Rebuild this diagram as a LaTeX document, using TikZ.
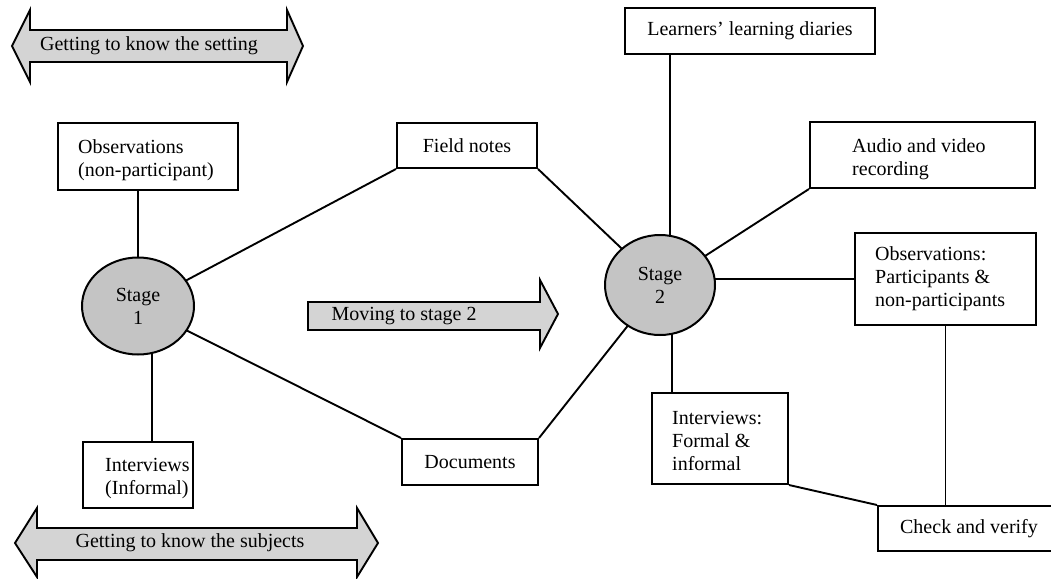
\documentclass[tikz,border=0pt]{standalone}
\usepackage{fontspec}
\setmainfont{Liberation Serif}
\usetikzlibrary{shapes.geometric,backgrounds,calc}
\definecolor{stagegray}{RGB}{196,196,196}
\definecolor{arrowgray}{RGB}{212,212,212}
\begin{document}
\begin{tikzpicture}[x=1pt,y=-1pt,
  every node/.style={font=\fontsize{20}{23}\selectfont},
  box/.style={draw, fill=white, line width=2pt, inner sep=0pt},
  txt/.style={inner sep=0pt, align=left, anchor=north west},
  stage/.style={ellipse, draw, line width=2pt, fill=stagegray, align=center, inner sep=0pt},
  conn/.style={line width=1.9pt},
  arr/.style={draw, line width=1.9pt, fill=arrowgray, line join=miter}]
\useasboundingbox (0,0) rectangle (1051,578);
\clip (0,0) rectangle (1051,578);

% block arrows
\path[arr] (12,46) -- (30,10) -- (30,30) -- (287,30) -- (287,10) -- (303,46) -- (287,82) -- (287,62) -- (30,62) -- (30,82) -- cycle;
\node (tset) at (149,46) {Getting to know the setting};
\path[arr] (15,543) -- (37,508) -- (37,528) -- (357,528) -- (357,508) -- (378,543) -- (357,577) -- (357,560) -- (37,560) -- (37,577) -- cycle;
\node (tsubj) at (190,543) {Getting to know the subjects};
\path[arr] (308,302) -- (540,302) -- (540,280) -- (558,314) -- (540,348) -- (540,330) -- (308,330) -- cycle;
\node (tmove) at (404,316) {Moving to stage 2};

% stages
\node[stage, minimum width=112pt, minimum height=97pt] (s1) at (138,306) {Stage\\1};
\node[stage, minimum width=110pt, minimum height=100pt] (s2) at (660,285) {Stage\\2};

% boxes
\node[box, minimum width=180pt, minimum height=67pt] (obs1) at (148,156.5) {};
\node[txt] (obs1t) at (78,139.5) {Observations\\(non-participant)};
\node[box, minimum width=110pt, minimum height=66pt] (int1) at (138,475) {};
\node[txt] (int1t) at (105,458.5) {Interviews\\(Informal)};
\node[box, minimum width=140pt, minimum height=45pt] (field) at (467,145.5) {Field notes};
\node[box, minimum width=136pt, minimum height=46pt] (docs) at (470,462) {Documents};
\node[box, minimum width=250pt, minimum height=46pt] (learn) at (750,31) {Learners’ learning diaries};
\node[box, minimum width=225pt, minimum height=66pt] (audio) at (922.5,155) {};
\node[txt] (audiot) at (852,138.5) {Audio and video\\recording};
\node[box, minimum width=181pt, minimum height=92pt] (obs2) at (945.5,279) {};
\node[txt] (obs2t) at (875,246.5) {Observations:\\Participants \&\\non-participants};
\node[box, minimum width=136pt, minimum height=91pt] (int2) at (720,438.5) {};
\node[txt] (int2t) at (672,411.5) {Interviews:\\Formal \&\\informal};
\node[box, minimum width=182pt, minimum height=45pt] (check) at (969,528.5) {Check and verify};

% connectors
\begin{scope}[on background layer]
\draw[conn] (s1.center) -- (s1.center |- obs1.south);
\coordinate (t1) at ($(s1.center)+(14,0)$);
\draw[conn] (t1) -- (t1 |- int1.north);
\draw[conn] (s1.center) -- (field.south west);
\draw[conn] (s1.center) -- (docs.north west);
\draw[conn] (field.south east) -- (s2.center);
\draw[conn] (docs.north east) -- (s2.center);
\coordinate (t2) at ($(s2.center)+(10,0)$);
\draw[conn] (t2) -- (t2 |- learn.south);
\draw[conn] (audio.south west) -- (s2.center);
\draw[conn] (obs2.west) -- (obs2.west -| s2.center);
\coordinate (t3) at ($(int2.north west)+(21,0)$);
\draw[conn] (t3) -- (t3 |- s2.center);
\draw[conn] (obs2.south) -- (obs2.south |- check.north);
\draw[conn] (int2.south east) -- (check.north west);
\end{scope}
\end{tikzpicture}
\end{document}
